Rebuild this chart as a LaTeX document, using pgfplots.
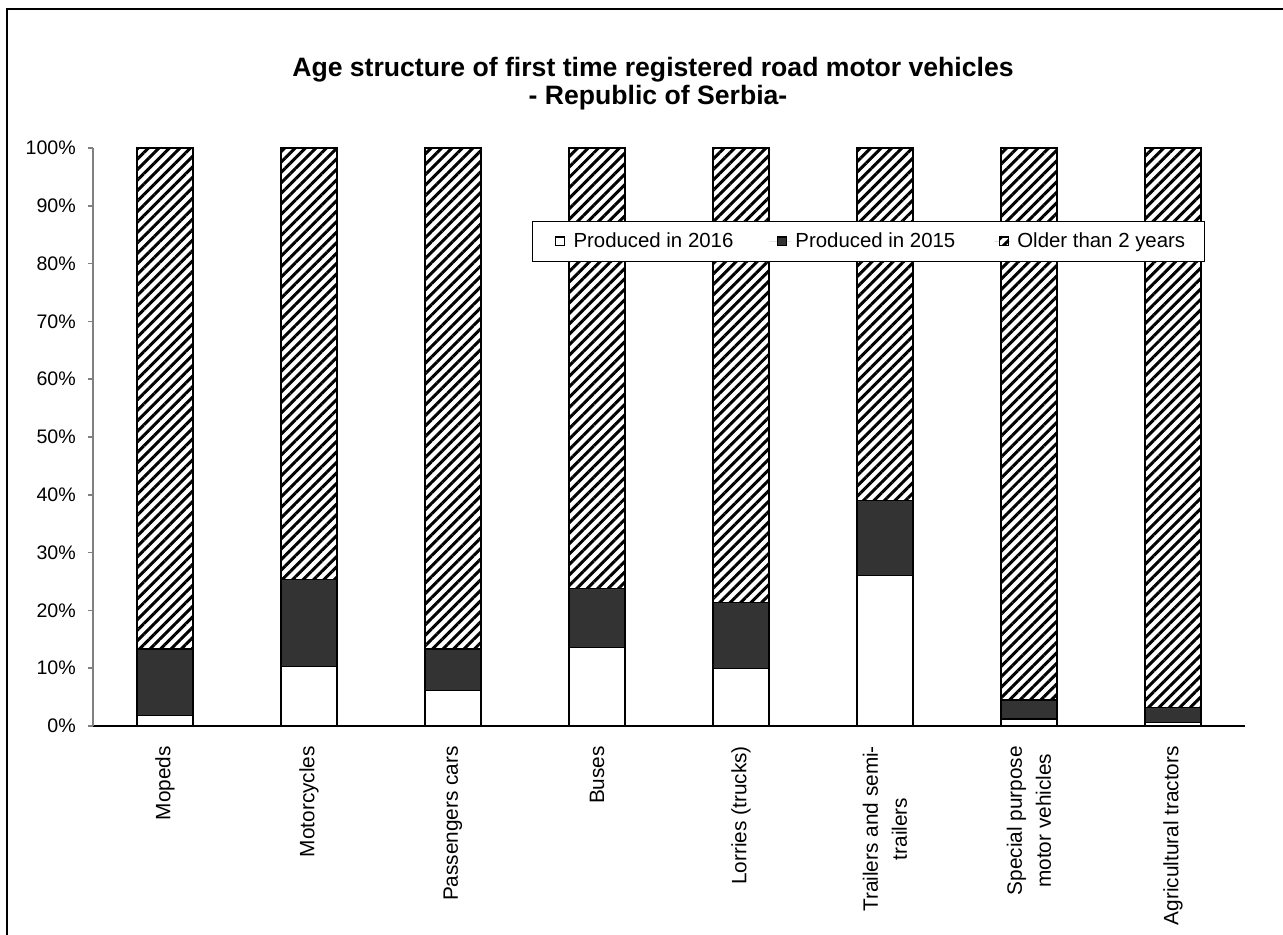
\documentclass[border=0pt]{standalone}
\usepackage{pgfplots}
\pgfplotsset{compat=1.18}
\usepackage{fontspec}
\setmainfont{Liberation Sans}
\usetikzlibrary{patterns.meta}
\definecolor{darkbar}{HTML}{333333}
\newcommand{\xfont}{\fontsize{10.4}{14.5}\selectfont}
\newcommand{\yfont}{\fontsize{9.8}{12}\selectfont}
\newcommand{\lfont}{\fontsize{10.2}{12}\selectfont}
\begin{document}
\begin{tikzpicture}[x=1pt,y=1pt]
\useasboundingbox (0,0) rectangle (641.5,-467.5);
\draw[line width=1pt] (3.5,-490) -- (3.5,-4.7) -- (660,-4.7);
\node[anchor=base, font=\bfseries\fontsize{13.3}{14}\selectfont] at (326.5,-38.5) {Age structure of first time registered road motor vehicles};
\node[anchor=base, font=\bfseries\fontsize{13.3}{14}\selectfont] at (329,-52.5) {- Republic of Serbia-};
\begin{axis}[
  at={(46.5pt,-363pt)}, anchor=south west,
  scale only axis, width=576pt, height=289pt,
  ybar stacked, bar width=28pt,
  xmin=-0.5, xmax=7.5, ymin=0, ymax=100,
  axis lines*=left,
  x axis line style={-, black, line width=0.8pt},
  y axis line style={-, gray, line width=0.8pt},
  xtick={0,...,7},
  xticklabels={Mopeds, Motorcycles, Passengers cars, Buses, Lorries (trucks), {Trailers and semi-\\trailers}, {Special purpose\\motor vehicles}, Agricultural tractors},
  x tick style={draw=none},
  xticklabel style={rotate=90, anchor=east, align=center, font=\xfont},
  xticklabel shift=4pt,
  ytick={0,10,...,100},
  y tick style={gray, line width=0.8pt},
  tick align=outside, major tick length=2.5pt,
  yticklabel={\pgfmathprintnumber{\tick}\%},
  yticklabel style={font=\yfont, xshift=-2.6pt},
  /pgf/number format/assume math mode=true,
  every axis plot/.append style={draw=black, line width=0.7pt},
  legend style={at={(0.381,0.874)}, anchor=north west, draw=black, line width=0.6pt,
    font=\lfont, legend columns=3, inner xsep=7.5pt, inner ysep=3.5pt,
    /tikz/every even column/.append style={column sep=16pt}},
  legend image code/.code={\path[draw=none] (-4pt,0) -- (7pt,0); \draw[#1, draw=black, line width=0.6pt] (0pt,-2.2pt) rectangle (4.4pt,2.2pt);},
]
\addplot[fill=white] coordinates {(0,1.8) (1,10.3) (2,6.1) (3,13.6) (4,10.0) (5,26.0) (6,1.2) (7,0.6)};
\addplot[fill=darkbar] coordinates {(0,11.5) (1,15.0) (2,7.2) (3,10.2) (4,11.4) (5,13.0) (6,3.3) (7,2.6)};
\addplot[pattern={Lines[angle=45,distance=3.7pt,line width=1.5pt]}, pattern color=black] coordinates {(0,86.7) (1,74.7) (2,86.7) (3,76.2) (4,78.6) (5,61.0) (6,95.5) (7,96.8)};
\legend{Produced in 2016, Produced in 2015, Older than 2 years}
\end{axis}
\end{tikzpicture}
\end{document}
